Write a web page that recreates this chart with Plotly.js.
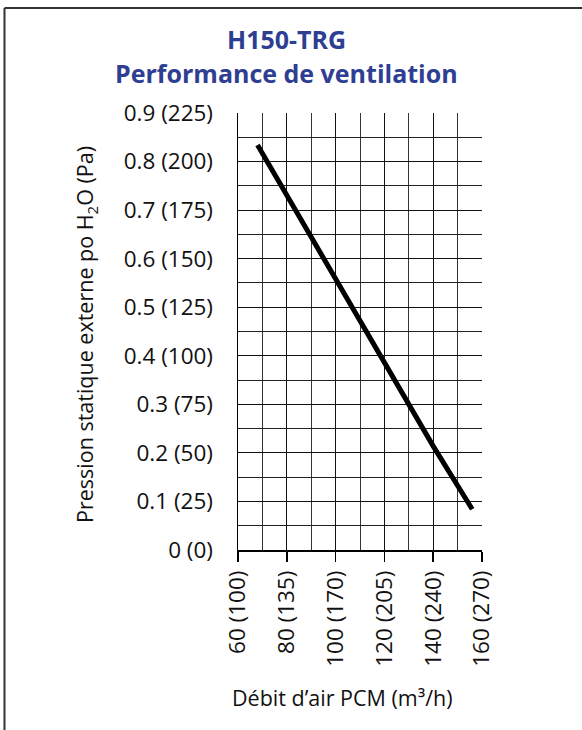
<!DOCTYPE html>
<html>
<head>
<meta charset="utf-8">
<script src="https://cdn.plot.ly/plotly-3.0.1.min.js"></script>
<style>html,body{margin:0;padding:0;background:#fff;}#chart{width:582px;height:730px;}</style>
</head>
<body>
<div id="chart"></div>
<script>
const flowCFM = [68, 100, 120, 140, 156];
const pressureInH2O = [0.834, 0.557, 0.388, 0.214, 0.084];

const xTickVals = [60, 80, 100, 120, 140, 160];
const xTickText = ['60 (100)', '80 (135)', '100 (170)', '120 (205)', '140 (240)', '160 (270)'];
const yTickVals = [0, 0.1, 0.2, 0.3, 0.4, 0.5, 0.6, 0.7, 0.8, 0.9];
const yTickText = ['0 (0)', '0.1 (25)', '0.2 (50)', '0.3 (75)', '0.4 (100)', '0.5 (125)', '0.6 (150)', '0.7 (175)', '0.8 (200)', '0.9 (225)'];

const titleLines = ['H150-TRG', 'Performance de ventilation'];
const xTitle = 'Débit d’air PCM (m³/h)';
const yTitle = 'Pression statique externe po H<sub>2</sub>O (Pa)';

const W = 582, H = 730;
const L = 238, R = 100, T = 113, B = 180;
const pw = W - L - R, ph = H - T - B;
const px = v => (v - L) / pw;
const py = v => (H - B - v) / ph;

const FONT = '"Open Sans", "DejaVu Sans", sans-serif';
const TITLE_COLOR = '#2e3e92';

const trace = {
  x: flowCFM, y: pressureInH2O, type: 'scatter', mode: 'lines',
  line: {color: '#000', width: 5}, hoverinfo: 'skip', showlegend: false
};

const layout = {
  width: W, height: H,
  margin: {l: L, r: R, t: T, b: B, pad: 0},
  paper_bgcolor: '#fff', plot_bgcolor: '#fff',
  font: {family: FONT, color: '#111'},
  showlegend: false,
  xaxis: {
    range: [60, 160], fixedrange: true,
    tickvals: xTickVals, ticktext: xTickText, tickangle: -90,
    ticks: 'outside', ticklen: 10, tickcolor: '#000', tickwidth: 1.5,
    ticklabelstandoff: 0,
    tickfont: {family: FONT, size: 22.5, color: '#111'},
    showgrid: true, gridcolor: '#111', gridwidth: 1,
    minor: {dtick: 10, tick0: 60, showgrid: true, gridcolor: '#333', gridwidth: 1, ticks: ''},
    showline: true, linecolor: '#000', linewidth: 1.5,
    zeroline: false
  },
  yaxis: {
    range: [0, 0.9], fixedrange: true,
    tickvals: yTickVals, ticktext: yTickText,
    ticks: '', ticklabelstandoff: 19,
    tickfont: {family: FONT, size: 22.5, color: '#111'},
    showgrid: true, gridcolor: '#111', gridwidth: 1,
    minor: {dtick: 0.05, tick0: 0, showgrid: true, gridcolor: '#222', gridwidth: 1, ticks: ''},
    showline: true, linecolor: '#000', linewidth: 1.5,
    zeroline: false
  },
  annotations: [
    {text: '<b>' + titleLines[0] + '</b>', xref: 'paper', yref: 'paper', x: px(286), y: py(39),
     xanchor: 'center', yanchor: 'middle', showarrow: false,
     font: {family: FONT, size: 25, color: TITLE_COLOR}},
    {text: '<b>' + titleLines[1] + '</b>', xref: 'paper', yref: 'paper', x: px(286), y: py(73),
     xanchor: 'center', yanchor: 'middle', showarrow: false,
     font: {family: FONT, size: 25, color: TITLE_COLOR}},
    {text: xTitle, xref: 'paper', yref: 'paper', x: px(342), y: py(697),
     xanchor: 'center', yanchor: 'middle', showarrow: false,
     font: {family: FONT, size: 21.5, color: '#111'}},
    {text: yTitle, xref: 'paper', yref: 'paper', x: px(86), y: py(335),
     xanchor: 'center', yanchor: 'middle', showarrow: false, textangle: -90,
     font: {family: FONT, size: 21.5, color: '#111'}}
  ],
  shapes: [
    {type: 'line', xref: 'paper', yref: 'paper', x0: px(4.5), x1: px(582), y0: py(8), y1: py(8),
     line: {color: '#333', width: 2}},
    {type: 'line', xref: 'paper', yref: 'paper', x0: px(4.5), x1: px(4.5), y0: py(8), y1: py(730),
     line: {color: '#333', width: 2}}
  ]
};

Plotly.newPlot('chart', [trace], layout, {displayModeBar: false, staticPlot: true});
</script>
</body>
</html>
